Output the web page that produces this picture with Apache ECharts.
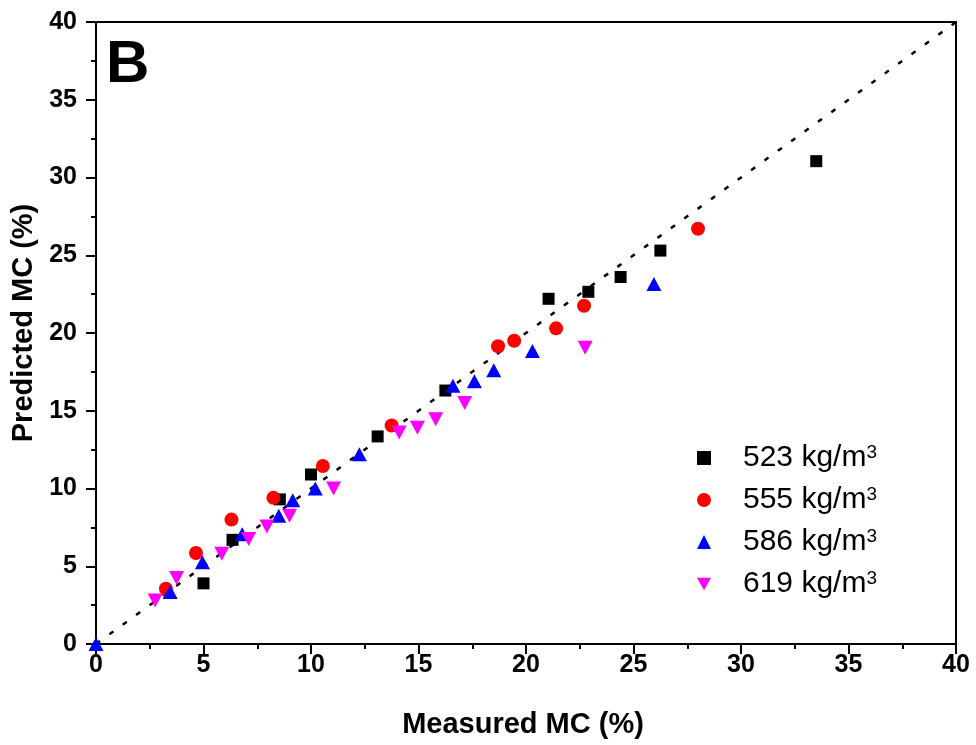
<!DOCTYPE html>
<html>
<head>
<meta charset="utf-8">
<script src="https://cdn.jsdelivr.net/npm/echarts@6/dist/echarts.min.js"></script>
<style>html,body{margin:0;padding:0;background:#fff}#c{width:976px;height:745px}</style>
</head>
<body>
<div id="c"></div>
<script>
const densities = ['523', '555', '586', '619'];
const s523 = [[5.0,3.9],[6.35,6.7],[8.55,9.3],[10.0,10.9],[13.1,13.35],[16.25,16.3],[21.05,22.2],[22.9,22.65],[24.4,23.6],[26.25,25.3],[33.5,31.05]];
const s555 = [[3.25,3.55],[4.65,5.85],[6.3,8.0],[8.25,9.4],[10.55,11.45],[13.75,14.05],[18.7,19.15],[19.45,19.5],[21.4,20.3],[22.7,21.75],[28.0,26.7]];
const s586 = [[0,0],[3.45,3.35],[4.95,5.25],[6.8,7.05],[8.5,8.25],[9.15,9.25],[10.2,10.0],[12.25,12.2],[16.6,16.6],[17.6,16.9],[18.5,17.6],[20.3,18.85],[25.95,23.15]];
const s619 = [[2.75,2.8],[3.75,4.25],[5.85,5.8],[7.1,6.75],[7.95,7.55],[9.0,8.25],[11.05,10.0],[14.1,13.6],[14.95,13.9],[15.8,14.45],[17.15,15.5],[22.75,19.05]];
const refLine = [[0,0],[40,40]];
const xTitle = 'Measured MC (%)';
const yTitle = 'Predicted MC (%)';
const panelLabel = 'B';

const seriesData = [s523, s555, s586, s619];
const colors = ['#000000', '#ff0000', '#0000ff', '#ff00ff'];
const symbols = ['rect', 'circle', 'triangle', 'path://M0,0 L10,0 L5,9 Z'];
const sizes = [12, 14, [15, 14], [15, 14]];

const font = '"Liberation Sans", Arial, sans-serif';
const chart = echarts.init(document.getElementById('c'), null, {renderer: 'canvas'});

const axisCommon = {
  min: 0, max: 40, interval: 5,
  axisLine: {show: true, lineStyle: {color: '#000', width: 2}},
  axisTick: {show: true, inside: false, length: 10, lineStyle: {color: '#000', width: 2}},
  minorTick: {show: true, splitNumber: 2, length: 5, lineStyle: {color: '#000', width: 2}},
  splitLine: {show: false},
  nameLocation: 'middle',
  nameTextStyle: {fontFamily: font, fontWeight: 'bold', fontSize: 29, color: '#000'},
  axisLabel: {fontFamily: font, fontWeight: 'bold', fontSize: 25, color: '#000'}
};

const series = densities.map((d, i) => ({
  name: d,
  type: 'scatter',
  data: seriesData[i],
  symbol: symbols[i],
  symbolSize: sizes[i],
  itemStyle: {color: colors[i], opacity: 1},
  z: 3
}));
series.unshift({
  type: 'line',
  data: refLine,
  symbol: 'none',
  silent: true,
  lineStyle: {color: '#000', width: 2.5, type: [5, 11.5]},
  z: 2
});

chart.setOption({
  animation: false,
  backgroundColor: '#fff',
  grid: {left: 96, top: 22, right: 20, bottom: 101, show: true, borderColor: '#000', borderWidth: 2, backgroundColor: 'transparent'},
  xAxis: Object.assign({}, axisCommon, {
    type: 'value', name: xTitle, nameGap: 66,
    nameTextStyle: Object.assign({}, axisCommon.nameTextStyle, {padding: [0, 6, 0, 0]}),
    axisLabel: Object.assign({}, axisCommon.axisLabel, {margin: 9})
  }),
  yAxis: Object.assign({}, axisCommon, {
    type: 'value', name: yTitle, nameGap: 54,
    nameTextStyle: Object.assign({}, axisCommon.nameTextStyle, {padding: [0, 0, 0, 20]}),
    axisLabel: Object.assign({}, axisCommon.axisLabel, {margin: 19})
  }),
  legend: {
    orient: 'vertical',
    left: 692, top: 438,
    itemWidth: 14, itemHeight: 14,
    itemGap: 12,
    data: densities,
    formatter: n => '{a|' + n + ' kg/m}{s|3}',
    textStyle: {
      color: '#000',
      rich: {
        a: {fontFamily: font, fontSize: 30, color: '#000', lineHeight: 30, verticalAlign: 'bottom', padding: [0, 0, 0, 27]},
        s: {fontFamily: font, fontSize: 19, color: '#000', lineHeight: 19, verticalAlign: 'top'}
      }
    }
  },
  graphic: [{
    type: 'text', left: 106, top: 35,
    style: {text: panelLabel, fontFamily: font, fontWeight: 'bold', fontSize: 60, fill: '#000'}
  }],
  series: series
});
</script>
</body>
</html>
